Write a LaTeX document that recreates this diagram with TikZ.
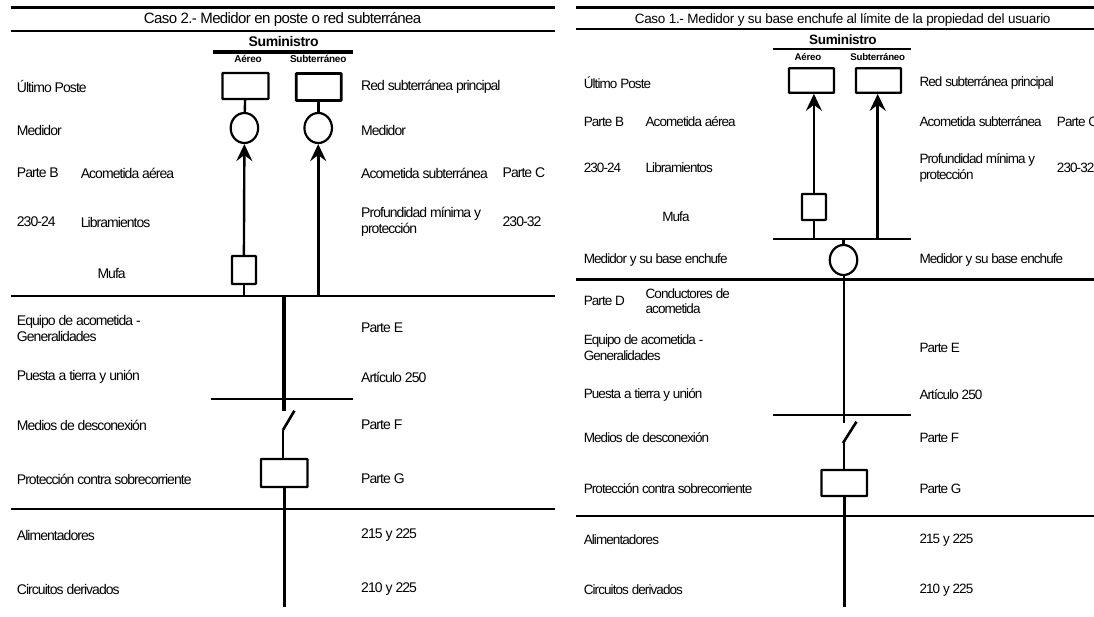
\documentclass[tikz,border=0pt]{standalone}
\usepackage{fontspec}
\setmainfont{Liberation Sans}
\newfontfamily\lblfont{Liberation Sans}[LetterSpace=-6.8]
\newfontfamily\titlefont{Liberation Sans}[LetterSpace=-2.3]
\newfontfamily\titlewidefont{Liberation Sans}[LetterSpace=-4.2]
\newfontfamily\headfont{Liberation Sans}[LetterSpace=-2.5]
\usetikzlibrary{shapes.geometric,arrows.meta,positioning,calc}

\begin{document}
\begin{tikzpicture}[
    x=1pt, y=-1pt,
    lbl/.style={anchor=west, inner sep=0pt, font=\lblfont\fontsize{14}{16}\selectfont, align=left},
    lblone/.style={anchor=west, inner sep=0pt, font=\lblfont\fontsize{13.5}{15.5}\selectfont, align=left},
    titlelbl/.style={inner sep=0pt, font=\titlewidefont\fontsize{15}{17}\selectfont},
    titleone/.style={inner sep=0pt, font=\titlefont\fontsize{13.5}{16}\selectfont},
    head/.style={inner sep=0pt, font=\headfont\fontsize{14}{16}\selectfont\bfseries},
    headone/.style={inner sep=0pt, font=\headfont\fontsize{13.5}{16}\selectfont\bfseries},
    subhead/.style={inner sep=0pt, font=\headfont\fontsize{10}{12}\selectfont\bfseries},
    subheadone/.style={inner sep=0pt, font=\headfont\fontsize{9.7}{12}\selectfont\bfseries},
    box/.style={rectangle, draw, rounded corners=0.5pt, inner sep=0pt, line width=2.2pt},
    meter/.style={ellipse, draw, inner sep=0pt, minimum width=27.5pt, minimum height=30pt, line width=2.2pt},
    arrow/.style={-{Stealth[length=17pt,width=16pt,inset=6pt]}},
    rule/.style={line width=2.2pt}
]
\useasboundingbox (0,0) rectangle (1094,617);

% Caso 2: rules
\draw[line width=3.4pt] (10.5,7.5) -- (555,7.5);
\draw[line width=2pt] (10.5,30.7) -- (555,30.7);
\draw[line width=3.4pt] (212.5,52) -- (352.7,52);
\draw[line width=2pt] (10.5,296.5) -- (555,296.5);
\draw[rule] (211.4,398.7) -- (352.7,398.7);
\draw[rule] (10.5,509) -- (555,509);

% Caso 2: heading
\node[titlelbl] (titleB) at (282.6,20) {Caso 2.- Medidor en poste o red subterránea};
\node[head] (supplyB) at (283.6,42) {Suministro};
\node[subhead] (aereoB) at (248,59) {Aéreo};
\node[subhead] (subtB) at (318.2,59) {Subterráneo};

% Caso 2: equipment
\node[box, minimum width=46pt, minimum height=26pt] (poleB) at (245.4,86) {};
\node[box, minimum width=45pt, minimum height=27pt, line width=2.6pt] (netB) at (318.7,87) {};
\node[meter] (meterAB) at (244.4,128) {};
\node[meter] (meterSB) at (318.2,128) {};
\node[box, minimum width=24pt, minimum height=28pt] (mufaB) at (243.9,270) {};
\coordinate (mufaEndB) at (mufaB.south |- 0,296.5);
\coordinate (subtEndB) at (meterSB.south |- 0,296.5);
\coordinate (mainTopB) at (284,296.5);
\coordinate (mainEndB) at (284,411);
\coordinate (swLowB) at (283,430);
\coordinate (swHighB) at (294.4,410.7);
\node[box, minimum width=46.5pt, minimum height=28pt] (breakerB) at (284.2,473) {};
\coordinate (feedEndB) at (breakerB.south |- 0,606.7);

\draw[line width=2.4pt] (poleB) -- (meterAB);
\draw[line width=3.2pt] (netB.south -| meterSB.north) -- (meterSB);
\draw[arrow, line width=2.4pt] (mufaB.north) -- (meterAB.south);
\draw[arrow, line width=3.2pt] (subtEndB) -- (meterSB.south);
\draw[line width=2.2pt] (mufaB.south) -- (mufaEndB);
\draw[line width=4pt] (mainTopB) -- (mainEndB);
\draw[line width=2.6pt] (swLowB) -- (swHighB);
\draw[line width=2.2pt] (swLowB) -- (swLowB |- breakerB.north);
\draw[line width=3.4pt] (breakerB.south) -- (feedEndB);

% Caso 2: left labels
\node[lbl] (posteB) at (16.7,87) {Último Poste};
\node[lbl] (medB) at (16.7,130) {Medidor};
\node[lbl] (parteBB) at (16.7,173) {Parte B};
\node[lbl] (aereaB) at (80.6,173) {Acometida aérea};
\node[lbl] (art24B) at (16.7,222) {230-24};
\node[lbl] (librB) at (80.6,222) {Libramientos};
\node[lbl] (mufaLblB) at (97.3,274) {Mufa};
\node[lbl] (equipoB) at (16.7,328) {Equipo de acometida -\\Generalidades};
\node[lbl] (tierraB) at (16.7,377) {Puesta a tierra y unión};
\node[lbl] (descB) at (16.7,425) {Medios de desconexión};
\node[lbl] (protB) at (16.7,479) {Protección contra sobrecorriente};
\node[lbl] (alimB) at (16.7,535) {Alimentadores};
\node[lbl] (circB) at (16.7,589) {Circuitos derivados};

% Caso 2: right labels
\node[lbl] (redB) at (361,87) {Red subterránea principal};
\node[lbl] (medRB) at (361,130) {Medidor};
\node[lbl] (subtLblB) at (361,173) {Acometida subterránea};
\node[lbl] (parteCB) at (502.4,173) {Parte C};
\node[lbl] (profB) at (361,222) {Profundidad mínima y\\protección};
\node[lbl] (art32B) at (502.4,222) {230-32};
\node[lbl] (parteEB) at (361,328) {Parte E};
\node[lbl] (art250B) at (361,377) {Artículo 250};
\node[lbl] (parteFB) at (361,425) {Parte F};
\node[lbl] (parteGB) at (361,479) {Parte G};
\node[lbl] (a215B) at (361,535) {215 y 225};
\node[lbl] (a210B) at (361,589) {210 y 225};

% Caso 1: rules
\draw[line width=3.4pt] (576,7.5) -- (1094,7.5);
\draw[line width=2pt] (576,29) -- (1094,29);
\draw[line width=2.4pt] (773,49.3) -- (910.9,49.3);
\draw[rule] (773,239) -- (910.9,239);
\draw[line width=3pt] (576,280) -- (1094,280);
\draw[rule] (773,415) -- (910.9,415);
\draw[rule] (576,515.7) -- (1094,515.7);

% Caso 1: heading
\node[titleone] (titleA) at (842.7,19.5) {Caso 1.- Medidor y su base enchufe al límite de la propiedad del usuario};
\node[headone] (supplyA) at (842.9,40) {Suministro};
\node[subheadone] (aereoA) at (807.9,57) {Aéreo};
\node[subheadone] (subtA) at (877.7,57) {Subterráneo};

% Caso 1: equipment
\node[box, minimum width=45pt, minimum height=24.5pt] (poleA) at (811.5,80.5) {};
\node[box, minimum width=45pt, minimum height=24.5pt] (netA) at (878.5,80.5) {};
\node[box, minimum width=24pt, minimum height=26pt] (mufaA) at (813.9,207) {};
\node[meter] (meterA) at (843.5,260) {};
\coordinate (mufaEndA) at (813.9,239);
\coordinate (subtEndA) at (877.7,239);
\coordinate (busA) at (843.5,239);
\coordinate (mainEndA) at (843.5,422.7);
\coordinate (swLowA) at (843,443);
\coordinate (swHighA) at (856.5,421.7);
\node[box, minimum width=45.5pt, minimum height=26pt] (breakerA) at (844.2,483) {};
\coordinate (feedEndA) at (844.2,607);

\draw[arrow, line width=2.6pt] (mufaA.north) -- (mufaA.north |- poleA.south);
\draw[arrow, line width=3.4pt] (subtEndA) -- (subtEndA |- netA.south);
\draw[line width=2.2pt] (mufaA.south) -- (mufaEndA);
\draw[line width=2.2pt] (busA) -- (meterA.north);
\draw[line width=2pt] (meterA.south) -- (mainEndA);
\draw[line width=2.6pt] (swLowA) -- (swHighA);
\draw[line width=2.2pt] (breakerA.north) -- (breakerA.north |- swLowA);
\draw[line width=3pt] (breakerA.south) -- (feedEndA);

% Caso 1: left labels
\node[lblone] (posteA) at (583.6,83) {Último Poste};
\node[lblone] (parteBA) at (583.6,122) {Parte B};
\node[lblone] (aereaA) at (645.4,122) {Acometida aérea};
\node[lblone] (art24A) at (583.6,168) {230-24};
\node[lblone] (librA) at (645.4,168) {Libramientos};
\node[lblone] (mufaLblA) at (662.1,217) {Mufa};
\node[lblone] (medA) at (583.6,260) {Medidor y su base enchufe};
\node[lblone] (parteDA) at (583.6,301) {Parte D};
\node[lblone] (condA) at (645.4,301) {Conductores de\\acometida};
\node[lblone] (equipoA) at (583.6,347.7) {Equipo de acometida -\\Generalidades};
\node[lblone] (tierraA) at (583.6,394.5) {Puesta a tierra y unión};
\node[lblone] (descA) at (583.6,438) {Medios de desconexión};
\node[lblone] (protA) at (583.6,489) {Protección contra sobrecorriente};
\node[lblone] (alimA) at (583.6,540) {Alimentadores};
\node[lblone] (circA) at (583.6,590) {Circuitos derivados};

% Caso 1: right labels
\node[lblone] (redA) at (919.3,83) {Red subterránea principal};
\node[lblone] (subtLblA) at (919.3,122) {Acometida subterránea};
\node[lblone] (parteCA) at (1056.7,122) {Parte C};
\node[lblone] (profA) at (919.3,168) {Profundidad mínima y\\protección};
\node[lblone] (art32A) at (1056.7,168) {230-32};
\node[lblone] (medRA) at (919.3,260) {Medidor y su base enchufe};
\node[lblone] (parteEA) at (919.3,347.7) {Parte E};
\node[lblone] (art250A) at (919.3,394.5) {Artículo 250};
\node[lblone] (parteFA) at (919.3,438) {Parte F};
\node[lblone] (parteGA) at (919.3,489) {Parte G};
\node[lblone] (a215A) at (919.3,540) {215 y 225};
\node[lblone] (a210A) at (919.3,590) {210 y 225};
\end{tikzpicture}
\end{document}
